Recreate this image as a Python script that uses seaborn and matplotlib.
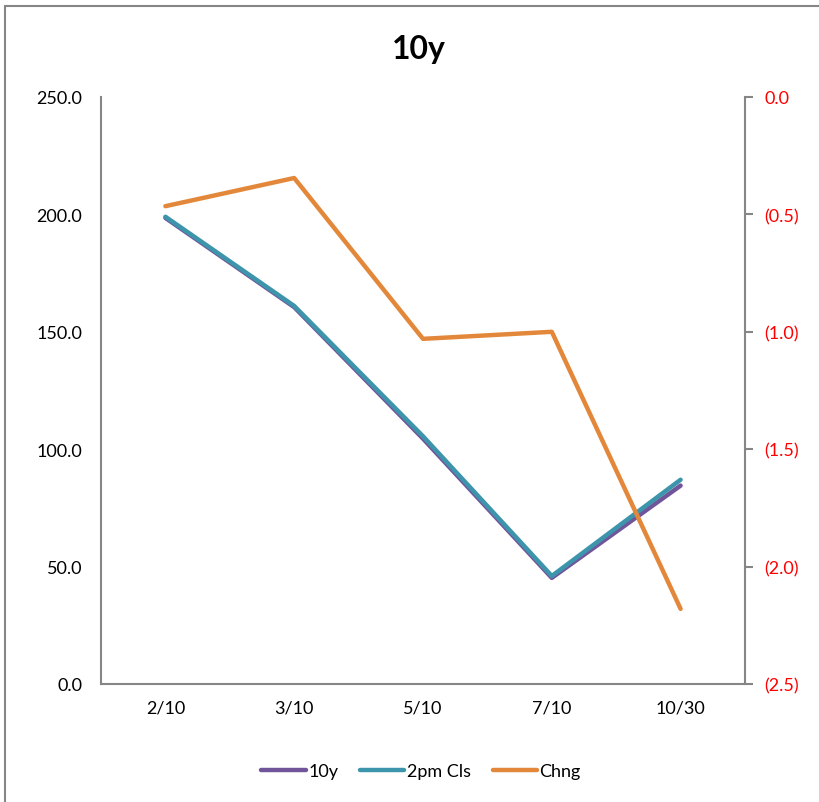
import matplotlib
matplotlib.use("Agg")
import matplotlib.pyplot as plt
import matplotlib.ticker as mticker
from matplotlib.lines import Line2D
from matplotlib.patches import Rectangle
import seaborn as sns
import pandas as pd

categories = ["2/10", "3/10", "5/10", "7/10", "10/30"]
y10 = [198.5, 160.5, 104.5, 45.2, 84.5]
pm2_cls = [199.0, 161.0, 105.5, 46.0, 87.0]
chng = [-0.465, -0.345, -1.03, -1.0, -2.18]
series_names = ["10y", "2pm Cls", "Chng"]
colors = ["#71559B", "#3D95AC", "#E3883A"]

sns.set_style("white")
plt.rcParams["font.family"] = ["Lato", "DejaVu Sans"]
plt.rcParams["text.color"] = "black"

fig = plt.figure(figsize=(8.19, 8.03), dpi=100)
ax = fig.add_axes([101/819, 1-685/803, (745-101)/819, (685-98)/803])

df = pd.DataFrame({"x": list(range(len(categories))), "y10": y10, "pm": pm2_cls, "chng": chng})
sns.lineplot(data=df, x="x", y="y10", ax=ax, color=colors[0], linewidth=3.2, solid_capstyle="round")
sns.lineplot(data=df, x="x", y="pm", ax=ax, color=colors[1], linewidth=3.2, solid_capstyle="round")
ax2 = ax.twinx()
sns.lineplot(data=df, x="x", y="chng", ax=ax2, color=colors[2], linewidth=3.2, solid_capstyle="round")

ax.set_xlim(-0.5, len(categories)-0.5)
ax.set_ylim(0, 250)
ax.set_yticks([0, 50, 100, 150, 200, 250])
ax.yaxis.set_major_formatter(mticker.FuncFormatter(lambda v, p: f"{v:.1f}"))
ax.set_xticks(range(len(categories)))
ax.set_xticklabels(categories)
ax2.set_ylim(-2.5, 0)
ax2.set_yticks([0, -0.5, -1.0, -1.5, -2.0, -2.5])
ax2.yaxis.set_major_formatter(mticker.FuncFormatter(lambda v, p: "0.0" if abs(v) < 1e-9 else f"({abs(v):.1f})"))

for a in (ax, ax2):
    a.set_xlabel("")
    a.set_ylabel("")
    for s in a.spines.values():
        s.set_color("#868686")
        s.set_linewidth(1.5)
    a.spines["top"].set_visible(False)
ax.spines["right"].set_visible(False)
ax2.spines["left"].set_visible(False)
ax2.spines["bottom"].set_visible(False)

ax.tick_params(axis="y", length=0, pad=13.5, labelsize=13, labelcolor="black")
ax.tick_params(axis="x", length=0, pad=11, labelsize=13, labelcolor="black")
ax2.tick_params(axis="y", length=5.8, width=1.5, color="#868686", direction="out", pad=8, labelsize=13, labelcolor="red")

fig.text(419/819, 1-50/803, "10y", ha="center", va="center", fontsize=23, fontweight="bold", color="black")

handles = [Line2D([0], [0], color=c, linewidth=3.2) for c in colors]
leg = fig.legend(handles, series_names, loc="center", bbox_to_anchor=(421/819, 1-772/803), ncol=3,
                 frameon=False, fontsize=13, handlelength=2.45, handletextpad=0.15, columnspacing=1.2)
for t in leg.get_texts():
    t.set_color("black")

fig.patches.append(Rectangle((5/819, -0.1), 1.2, 1-7/803+0.1, transform=fig.transFigure,
                             fill=False, edgecolor="#868686", linewidth=1.5))

fig.savefig("out.png", dpi=100)
